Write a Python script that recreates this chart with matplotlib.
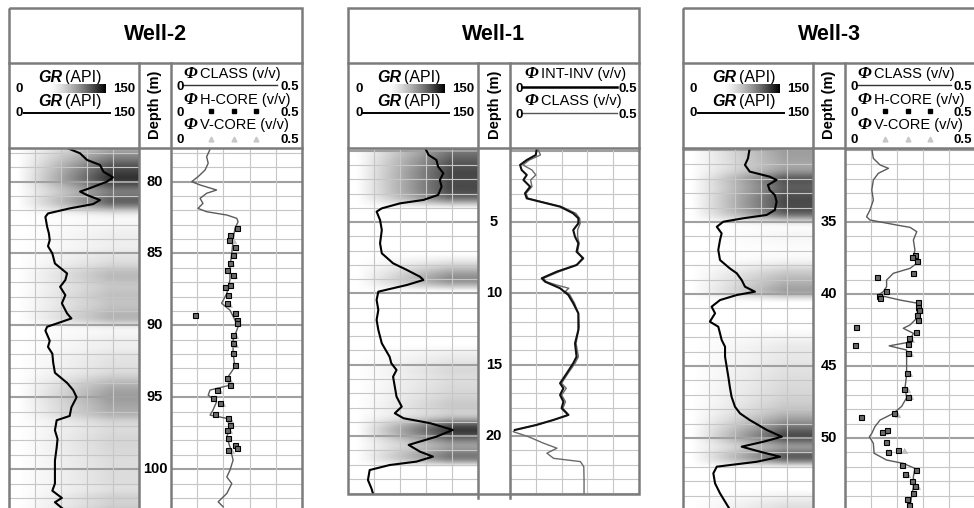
import numpy as np
import matplotlib
matplotlib.use("Agg")
import matplotlib.pyplot as plt
from matplotlib.patches import Rectangle

plt.rcParams['font.family'] = ['Liberation Sans', 'DejaVu Sans']

# ---------------- data ----------------
gr_range = (0, 150)
phi_range = (0, 0.5)

# Well-2
w2_depth_range = (77.67, 102.7)
w2_depth_ticks = [80, 85, 90, 95, 100]
w2_gr_depth = [77.67, 78.04, 78.5, 78.85, 79.32, 79.71, 80.01, 80.47, 80.7, 80.94, 81.29, 81.57,
               81.87, 82.22, 82.46, 83.15, 83.6, 84.07, 84.5, 85.0, 85.7, 86.39, 86.85, 87.32, 87.9,
               88.47, 89.17, 89.52, 89.75, 90.1, 90.37, 91.07, 91.5, 91.97, 92.6, 93.3, 94.0,
               94.5, 95.0, 95.7, 96.3, 96.6, 97.3, 97.9, 98.5, 99.4, 100.3, 101.0, 101.5,
               102.0, 102.3, 102.7]
w2_gr = [67, 82, 90, 105, 109, 120, 113, 93, 82, 90, 105, 97,
         70, 45, 42, 44, 46, 47, 45, 50, 53, 67, 65, 59, 65,
         61, 67, 72, 61, 44, 42, 47, 45, 50, 51, 53, 67,
         74, 78, 72, 70, 55, 53, 56, 55, 53, 53, 53, 50,
         61, 53, 61]

w2_class_depth = [77.76, 78.28, 78.73, 79.2, 79.67, 80.01, 80.24, 80.59, 80.82, 81.17, 81.52,
                  81.87, 82.1, 82.33, 82.56, 82.8, 83.26, 84.07, 85.0, 85.93, 86.85, 87.78,
                  88.47, 88.94, 89.63, 90.1, 91.03, 91.95, 92.88, 93.58, 94.16, 94.5, 94.85,
                  95.32, 95.9, 96.24, 96.47, 97.06, 97.75, 98.45, 99.37, 100.07, 100.54,
                  101.0, 101.69, 102.27, 102.62]
w2_class = [0.149, 0.136, 0.142, 0.13, 0.103, 0.079, 0.111, 0.174, 0.136, 0.111, 0.122,
            0.103, 0.136, 0.213, 0.251, 0.256, 0.244, 0.237, 0.232, 0.225, 0.225, 0.213,
            0.193, 0.225, 0.244, 0.256, 0.237, 0.237, 0.244, 0.218, 0.225, 0.149, 0.142,
            0.174, 0.16, 0.149, 0.213, 0.225, 0.213, 0.225, 0.237, 0.225, 0.213,
            0.232, 0.213, 0.18, 0.199]

w2_hcore_depth = [83.26, 83.72, 84.07, 84.54, 85.11, 85.69, 86.16, 86.5, 87.32, 87.2, 87.9,
                  88.47, 89.17, 89.29, 89.63, 89.87, 90.68, 91.26, 91.95, 92.77, 93.69, 94.16,
                  94.5, 95.08, 95.43, 96.13, 96.47, 96.94, 97.29, 97.86, 98.33, 98.56, 98.68]
w2_hcore = [0.251, 0.225, 0.223, 0.244, 0.238, 0.225, 0.213, 0.238, 0.206, 0.225, 0.219,
            0.213, 0.244, 0.092, 0.251, 0.251, 0.238, 0.238, 0.238, 0.244, 0.213, 0.225,
            0.174, 0.162, 0.187, 0.168, 0.219, 0.225, 0.213, 0.219, 0.244, 0.251, 0.219]
w2_vcore_depth = [84.1, 85.7, 86.5, 88.5, 90.7, 91.3, 93.7, 94.5, 95.4, 96.5, 97.3, 98.7]
w2_vcore = [0.235, 0.23, 0.24, 0.22, 0.245, 0.243, 0.22, 0.185, 0.195, 0.225, 0.222, 0.23]

# Well-1
w1_depth_range = (-0.19, 24.06)
w1_depth_ticks = [5, 10, 15, 20]
w1_gr_depth = [-0.19, 0.3, 0.65, 1.12, 1.58, 2.05, 2.52, 3.1, 3.45, 3.69, 4.04, 4.27, 4.86,
               5.56, 6.03, 6.49, 7.19, 7.89, 8.36, 8.83, 9.06, 9.41, 9.88, 10.46, 11.16,
               11.86, 12.56, 13.5, 14.44, 14.9, 15.37, 15.84, 16.54, 17.24, 17.94, 18.4,
               18.75, 19.1, 19.57, 20.04, 20.62, 21.09, 21.44, 21.79, 22.03, 22.38, 23.08,
               23.66, 24.06]
w1_gr = [89, 93, 102, 104, 110, 106, 108, 104, 87, 60, 39, 33, 37,
         39, 38, 37, 39, 52, 68, 83, 87, 68, 35, 33, 35,
         33, 35, 39, 48, 50, 56, 52, 54, 56, 62, 54,
         64, 95, 121, 102, 70, 83, 98, 79, 48, 25, 23,
         27, 29]

w1_intinv_depth = [-0.05, 0.3, 0.65, 1.0, 1.35, 1.7, 2.05, 2.52, 2.99, 3.34, 3.57, 3.92, 4.39,
                   4.74, 5.09, 5.56, 6.03, 6.49, 7.08, 7.54, 8.01, 8.48, 8.94, 9.18, 9.64,
                   10.11, 10.69, 11.4, 12.33, 12.56, 13.5, 14.44, 14.9, 15.6, 16.3, 16.65,
                   17.12, 17.59, 18.05, 18.52, 18.87, 19.22, 19.57]
w1_intinv = [0.103, 0.1, 0.065, 0.039, 0.045, 0.065, 0.052, 0.078, 0.058, 0.065, 0.116, 0.194,
             0.245, 0.265, 0.265, 0.245, 0.252, 0.265, 0.258, 0.284, 0.258, 0.181, 0.123,
             0.136, 0.194, 0.226, 0.245, 0.265, 0.265, 0.265, 0.252, 0.258, 0.245, 0.22,
             0.194, 0.207, 0.194, 0.207, 0.2, 0.226, 0.168, 0.103, 0.019]

w1_class_depth = [-0.05, 0.3, 0.65, 1.0, 1.35, 1.7, 2.05, 2.52, 2.99, 3.34, 3.57, 3.92, 4.39,
                  4.74, 5.09, 5.56, 6.03, 6.49, 7.08, 7.54, 8.01, 8.48, 8.94, 9.18, 9.41,
                  9.64, 9.85, 10.11, 10.69, 11.4, 12.33, 13.5, 14.44, 14.9, 15.6, 16.3,
                  16.65, 17.12, 17.59, 18.05, 18.52, 18.87, 19.22, 19.57, 19.69, 20.04,
                  20.5, 20.85, 21.2, 21.56, 21.79, 22.15, 23.08, 24.06]
w1_class = [0.11, 0.118, 0.075, 0.05, 0.085, 0.1, 0.08, 0.085, 0.062, 0.07, 0.12, 0.2, 0.255,
            0.27, 0.272, 0.262, 0.262, 0.268, 0.262, 0.28, 0.26, 0.19, 0.13, 0.14, 0.18,
            0.228, 0.215, 0.232, 0.25, 0.265, 0.268, 0.256, 0.265, 0.252, 0.225, 0.2,
            0.218, 0.2, 0.215, 0.205, 0.228, 0.17, 0.1, 0.02, 0.012, 0.071,
            0.13, 0.182, 0.143, 0.169, 0.273, 0.286, 0.287, 0.287]

# Well-3
w3_depth_range = (29.86, 54.86)
w3_depth_ticks = [35, 40, 45, 50]
w3_gr_depth = [29.86, 30.58, 31.04, 31.5, 31.85, 32.08, 32.43, 32.78, 33.13, 33.59,
               34.17, 34.51, 34.74, 34.98, 35.33, 35.79, 36.25, 36.94, 37.64, 38.22,
               38.56, 39.03, 39.49, 39.84, 40.07, 40.42, 40.88, 41.34, 41.92, 42.27,
               42.73, 43.19, 43.66, 44.35, 45.05, 45.74, 46.44, 47.13, 47.83, 48.29,
               48.75, 49.1, 49.44, 49.91, 50.26, 50.6, 50.95, 51.3, 51.65, 51.99,
               52.45, 53.15, 53.84, 54.86]
w3_gr = [77, 75, 71.5, 77, 100, 108, 98, 100, 106, 108,
         106, 96.5, 69.6, 46.5, 39, 44.6, 42.7, 40.7, 42.7, 54,
         62, 67.7, 71.5, 83, 62, 42.7, 33, 37, 31, 40.7,
         42.7, 44.6, 48.5, 48.5, 50.4, 52.3, 54, 56, 60, 65.8,
         77, 87, 96.6, 114, 92.6, 67.7, 88.8, 112, 85, 39,
         35, 37, 42.7, 53]

w3_class_depth = [29.9, 30.58, 31.04, 31.27, 31.62, 32.08, 32.78, 33.48, 34.17, 34.63, 34.86,
                  35.21, 35.37, 35.67, 36.25, 36.94, 37.41, 37.87, 38.22, 38.56, 39.03, 39.49,
                  39.84, 40.07, 40.42, 40.65, 41.1, 41.57, 42.15, 42.38, 42.73, 43.35, 43.6,
                  43.89, 44.7, 45.6, 46.5, 47.2, 47.8, 48.29, 48.75, 49.21, 49.68, 49.91,
                  50.37, 51.06, 51.53, 51.76, 52.11, 52.68, 53.38, 54.07, 54.8]
w3_class = [0.103, 0.109, 0.135, 0.167, 0.128, 0.109, 0.103, 0.109, 0.096, 0.083, 0.096,
            0.199, 0.25, 0.276, 0.263, 0.269, 0.263, 0.276, 0.25, 0.186, 0.16, 0.16,
            0.147, 0.128, 0.212, 0.282, 0.276, 0.282, 0.25, 0.224, 0.263, 0.245, 0.17,
            0.237, 0.237, 0.237, 0.231, 0.237, 0.218, 0.186, 0.135, 0.115, 0.103, 0.094,
            0.109, 0.112, 0.16, 0.224, 0.269, 0.263, 0.263, 0.256, 0.25]

w3_hcore_depth = [37.29, 37.45, 37.69, 38.8, 38.56, 39.79, 40.12, 40.3, 40.53, 40.88, 41.11,
                  41.46, 41.8, 42.27, 42.62, 43.08, 43.47, 43.54, 44.12, 45.51, 46.62, 47.13,
                  48.29, 48.56, 49.56, 49.44, 50.26, 50.95, 50.83, 51.88, 52.5, 52.22, 52.96,
                  53.33, 53.84, 54.24, 54.65]
w3_hcore = [0.269, 0.256, 0.276, 0.122, 0.26, 0.158, 0.132, 0.135, 0.282, 0.282, 0.286,
            0.278, 0.282, 0.042, 0.273, 0.247, 0.244, 0.038, 0.244, 0.237, 0.228, 0.241,
            0.19, 0.062, 0.144, 0.16, 0.158, 0.167, 0.205, 0.218, 0.231, 0.273, 0.256,
            0.269, 0.263, 0.237, 0.247]
w3_vcore_depth = [41.1, 43.1, 44.1, 45.5, 46.6, 47.1, 48.3, 49.5, 50.8, 52.5, 53.3]
w3_vcore = [0.29, 0.255, 0.25, 0.245, 0.238, 0.25, 0.2, 0.155, 0.228, 0.24, 0.275]

# ---------------- figure ----------------
W, H = 974, 508
fig = plt.figure(figsize=(W / 100, H / 100), dpi=100)

FRAME = '#7c7c7c'
GRID_MINOR = '#c6c6c6'
GRID_MAJOR = '#a0a0a0'


def px_axes(x0, y0, x1, y1, z=1):
    ax = fig.add_axes([x0 / W, 1 - y1 / H, (x1 - x0) / W, (y1 - y0) / H], zorder=z)
    ax.set_xticks([])
    ax.set_yticks([])
    for s in ax.spines.values():
        s.set_visible(False)
    return ax


def draw_grid(ax, dtop, dbot, xgrid):
    for d in range(int(np.ceil(dtop)), int(np.floor(dbot)) + 1):
        major = d % 5 == 0
        ax.axhline(d, color=GRID_MAJOR if major else GRID_MINOR,
                   lw=1.5 if major else 0.8, zorder=1)
    for v in xgrid:
        ax.axvline(v, color=GRID_MINOR, lw=0.8, zorder=1)


def gr_track(x0, x1, y0, y1, drange, depth, gr):
    ax = px_axes(x0, y0, x1, y1)
    dtop, dbot = drange
    dd = np.linspace(dtop, dbot, 700)
    g = np.interp(dd, depth, gr)
    k = np.exp(-0.5 * (np.arange(-18, 19) / 6.0) ** 2)
    k /= k.sum()
    g = np.convolve(np.pad(g, 18, mode='edge'), k, mode='valid')
    xs = np.linspace(0, 1, 160)
    ramp = np.clip((xs - 0.06) / 0.72, 0, 1) ** 1.1
    h = np.clip((g - 40) / 90.0, 0, 1)
    img = 1 - 0.95 * np.outer(h, ramp)
    ax.imshow(img, cmap='gray', vmin=0, vmax=1, extent=[gr_range[0], gr_range[1], dbot, dtop],
              aspect='auto', interpolation='bilinear', zorder=0)
    draw_grid(ax, dtop, dbot, [30, 60, 90, 120])
    ax.plot(gr, depth, color='black', lw=1.5, zorder=3)
    ax.set_xlim(*gr_range)
    ax.set_ylim(dbot, dtop)
    return ax


def phi_track(x0, x1, y0, y1, drange):
    ax = px_axes(x0, y0, x1, y1)
    dtop, dbot = drange
    draw_grid(ax, dtop, dbot, [0.1, 0.2, 0.3, 0.4])
    ax.set_xlim(*phi_range)
    ax.set_ylim(dbot, dtop)
    return ax


def depth_track(x0, x1, y0, y1, drange, ticks):
    ax = px_axes(x0, y0, x1, y1)
    dtop, dbot = drange
    ax.set_xlim(0, 1)
    ax.set_ylim(dbot, dtop)
    for t in ticks:
        ax.text(0.5, t, str(t), ha='center', va='center', fontsize=10.5, fontweight='bold')
    return ax


def core_points(ax, hd, hv, vd, vv):
    ax.plot(vv, vd, linestyle='none', marker='^', ms=3.6, mfc='#c4c4c4', mec='#b0b0b0',
            mew=0.5, zorder=4)
    ax.plot(hv, hd, linestyle='none', marker='s', ms=3.6, mfc='#6a6a6a', mec='black',
            mew=0.8, zorder=5)


# panels: name, L, G (gr right), D (depth right), R, bottom
panels = [
    ("Well-2", 9, 139, 171, 302, 508),
    ("Well-1", 348, 478, 510, 639, 494),
    ("Well-3", 683, 813, 845, 975, 508),
]
DATA_TOP = 148

# Well-2 tracks
L, G, D, R, B = panels[0][1:]
gr_track(L, G, DATA_TOP, B, w2_depth_range, w2_gr_depth, w2_gr)
depth_track(G, D, DATA_TOP, B, w2_depth_range, w2_depth_ticks)
ax = phi_track(D, R, DATA_TOP, B, w2_depth_range)
ax.plot(w2_class, w2_class_depth, color='#5a5a5a', lw=1.0, zorder=3)
core_points(ax, w2_hcore_depth, w2_hcore, w2_vcore_depth, w2_vcore)

# Well-1 tracks
L, G, D, R, B = panels[1][1:]
gr_track(L, G, DATA_TOP, B, w1_depth_range, w1_gr_depth, w1_gr)
depth_track(G, D, DATA_TOP, B, w1_depth_range, w1_depth_ticks)
ax = phi_track(D, R, DATA_TOP, B, w1_depth_range)
ax.plot(w1_class, w1_class_depth, color='#6a6a6a', lw=1.0, zorder=3)
ax.plot(w1_intinv, w1_intinv_depth, color='#111111', lw=1.5, zorder=4)

# Well-3 tracks
L, G, D, R, B = panels[2][1:]
gr_track(L, G, DATA_TOP, B, w3_depth_range, w3_gr_depth, w3_gr)
depth_track(G, D, DATA_TOP, B, w3_depth_range, w3_depth_ticks)
ax = phi_track(D, R, DATA_TOP, B, w3_depth_range)
ax.plot(w3_class, w3_class_depth, color='#5a5a5a', lw=1.0, zorder=3)
core_points(ax, w3_hcore_depth, w3_hcore, w3_vcore_depth, w3_vcore)

# ---------------- overlay: frames & headers ----------------
ov = fig.add_axes([0, 0, 1, 1], zorder=10)
ov.patch.set_alpha(0)
ov.axis('off')

grad = 1 - np.clip((np.linspace(0, 1, 256) - 0.1) / 0.9, 0, 1) ** 1.3

NUM = dict(fontsize=9.5, fontweight='bold')
LAB = dict(fontsize=10.5)


def phi_label(x, y, txt):
    ov.text(x, y, 'Φ', family=['Liberation Serif', 'DejaVu Serif'], fontweight='bold',
            fontstyle='italic', fontsize=12.5, ha='left', va='baseline')
    ov.text(x + 17, y, txt, ha='left', va='baseline', **LAB)


for name, L, G, D, R, B in panels:
    # frames
    ov.add_patch(Rectangle((L, 8), R - L, B + (4 if B > 500 else 0) - 8, fill=False,
                           ec=FRAME, lw=1.8, zorder=5))
    ov.plot([L, R], [63, 63], color=FRAME, lw=1.8, zorder=5)
    ov.plot([L, R], [DATA_TOP, DATA_TOP], color=FRAME, lw=1.8, zorder=5)
    ov.plot([G, G], [63, B + 4], color=FRAME, lw=1.8, zorder=5)
    ov.plot([D, D], [63, B + 4], color=FRAME, lw=1.8, zorder=5)
    # title
    ov.text((L + R) / 2, 35, name, ha='center', va='center', fontsize=15.5, fontweight='bold')
    # GR header
    for yb in (82, 106):
        ov.text(L + 53, yb, 'GR', ha='right', va='baseline', fontsize=11.5, fontweight='bold',
                fontstyle='italic')
        ov.text(L + 56, yb, '(API)', ha='left', va='baseline', fontsize=11.5)
    ov.imshow(grad[None, :], cmap='gray', vmin=0, vmax=1, extent=[L + 34, L + 97, 93, 84],
              aspect='auto', interpolation='bilinear', zorder=4)
    ov.plot([L + 15, L + 101], [112.5, 112.5], color='black', lw=1.4)
    for yn in (88.5, 113):
        ov.text(L + 7, yn, '0', ha='left', va='center', **NUM)
        ov.text(G - 4, yn, '150', ha='right', va='center', **NUM)
    # depth header
    ov.text((G + D) / 2 + 0.5, 105, 'Depth (m)', rotation=90, ha='center', va='center',
            fontsize=10.5, fontweight='bold')
    # phi header
    P = D
    if name == "Well-1":
        phi_label(P + 14, 78, 'INT-INV (v/v)')
        ov.plot([P + 12, P + 107], [87, 87], color='black', lw=1.8)
        phi_label(P + 14, 105, 'CLASS (v/v)')
        ov.plot([P + 12, P + 107], [113, 113], color='#555555', lw=1.0)
        for yn in (88.5, 115):
            ov.text(P + 9, yn, '0', ha='center', va='center', **NUM)
            ov.text(R - 2, yn, '0.5', ha='right', va='center', **NUM)
    else:
        phi_label(P + 12, 78, 'CLASS (v/v)')
        ov.plot([P + 12, P + 106], [85, 85], color='#333333', lw=1.0)
        phi_label(P + 12, 104, 'H-CORE (v/v)')
        phi_label(P + 12, 129, 'V-CORE (v/v)')
        ov.plot([P + 40, P + 63, P + 85], [111, 111, 111], linestyle='none', marker='s',
                ms=3.5, color='black')
        ov.plot([P + 40, P + 63, P + 85], [139, 139, 139], linestyle='none', marker='^',
                ms=3.5, color='#c8c8c8')
        for yn in (86.5, 113, 140):
            ov.text(P + 9, yn, '0', ha='center', va='center', **NUM)
            ov.text(R - 3, yn, '0.5', ha='right', va='center', **NUM)

ov.set_xlim(0, W)
ov.set_ylim(H, 0)

fig.savefig("out.png", dpi=100)
